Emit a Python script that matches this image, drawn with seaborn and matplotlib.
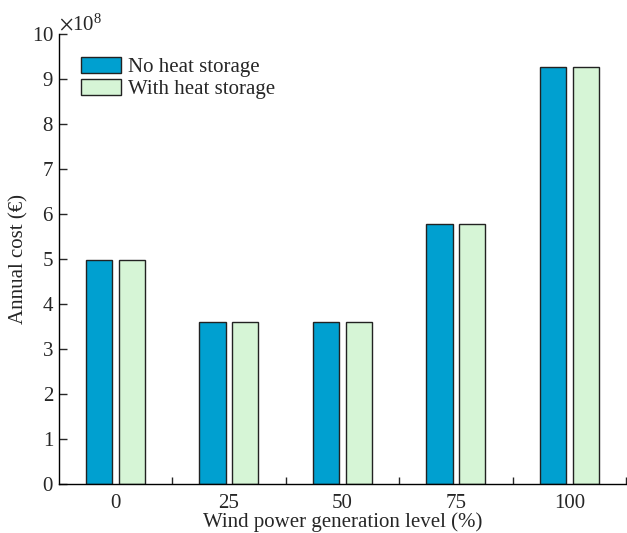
import matplotlib
matplotlib.use("Agg")
import matplotlib.pyplot as plt
from matplotlib.ticker import ScalarFormatter, FixedLocator, MultipleLocator
import pandas as pd
import seaborn as sns

# Annual cost for each wind power generation level
levels = ["0", "25", "50", "75", "100"]
no_storage = [4.97e8, 3.59e8, 3.61e8, 5.78e8, 9.26e8]
with_storage = [4.97e8, 3.59e8, 3.61e8, 5.78e8, 9.26e8]
series_names = ["No heat storage", "With heat storage"]
colors = ["#00A0D0", "#D6F5D6"]

df = pd.DataFrame({
    "level": levels * 2,
    "cost": no_storage + with_storage,
    "case": [series_names[0]] * len(levels) + [series_names[1]] * len(levels),
})

sns.set_theme(style="ticks")
plt.rcParams["font.family"] = ["Liberation Serif", "DejaVu Serif"]
plt.rcParams["mathtext.fontset"] = "stix"

FS = 15

fig = plt.figure(figsize=(6.27, 5.33), dpi=100)
ax = fig.add_axes([0.0935, 0.092, 0.905, 0.844])

sns.barplot(data=df, x="level", y="cost", hue="case", order=levels,
            hue_order=series_names, palette=colors, width=0.58, gap=0.2,
            edgecolor="#222222", linewidth=1.0, saturation=1, ax=ax)

ax.set_xlim(-0.5, 4.5)
ax.set_ylim(0, 10e8)
ax.yaxis.set_major_locator(MultipleLocator(1e8))
fmt = ScalarFormatter(useMathText=True)
fmt.set_powerlimits((8, 8))
ax.yaxis.set_major_formatter(fmt)
ax.yaxis.get_offset_text().set_fontsize(FS)

ax.xaxis.set_minor_locator(FixedLocator([0.5, 1.5, 2.5, 3.5, 4.5]))
ax.tick_params(axis="x", which="major", length=0, pad=7, labelsize=FS)
ax.tick_params(axis="x", which="minor", direction="in", length=5, width=1)
ax.tick_params(axis="y", which="major", direction="in", length=6, width=1,
               labelsize=FS, pad=3.5)

for side in ["top", "right"]:
    ax.spines[side].set_visible(False)
for side in ["left", "bottom"]:
    ax.spines[side].set_linewidth(1.0)
    ax.spines[side].set_color("black")

ax.set_xlabel("Wind power generation level (%)", fontsize=FS, labelpad=0)
ax.set_ylabel("Annual cost (€)", fontsize=FS, labelpad=2)

ax.legend(loc="upper left", bbox_to_anchor=(0.025, 0.968), frameon=False,
          fontsize=FS, handlelength=1.9, handleheight=0.8,
          handletextpad=0.35, labelspacing=0.1, borderaxespad=0.0,
          borderpad=0.4)

fig.savefig("out.png", dpi=100)
